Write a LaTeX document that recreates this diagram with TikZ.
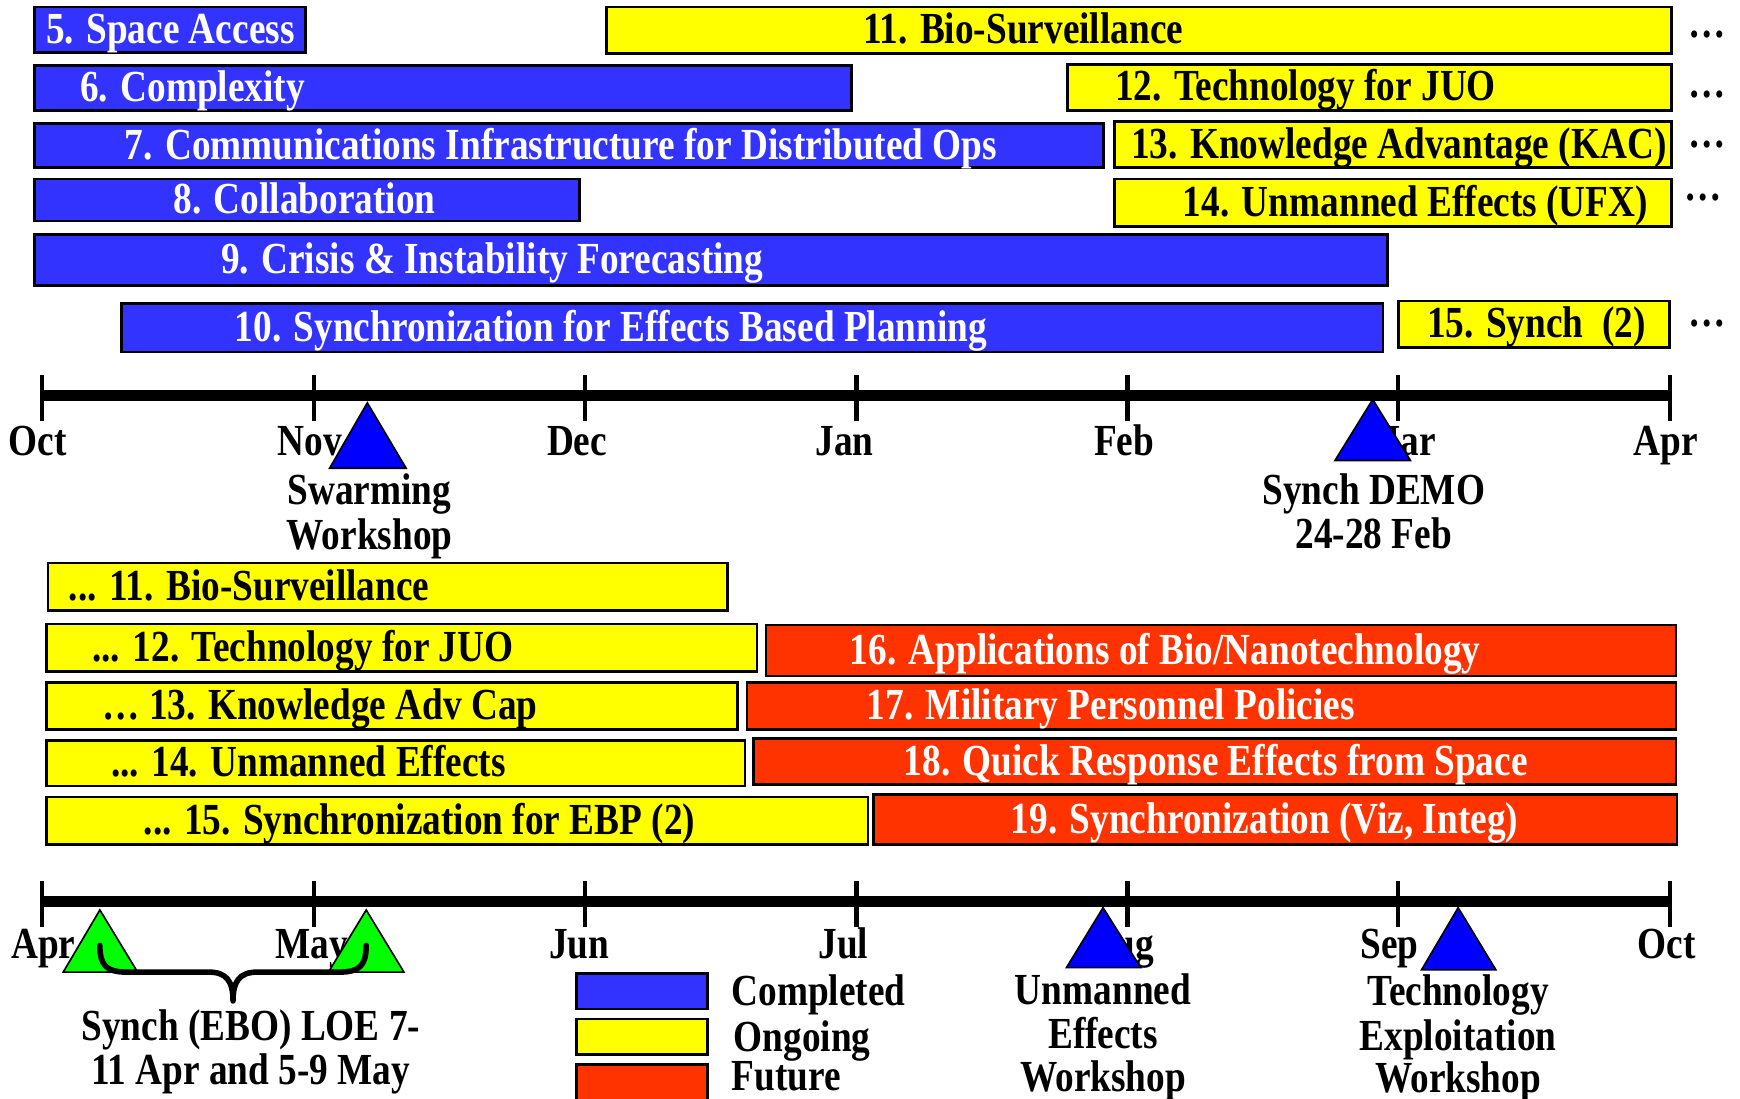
\documentclass[tikz,border=0pt]{standalone}
\usepackage{fontspec}
\setmainfont{Liberation Serif}[FakeStretch=0.84]
\usetikzlibrary{calc}

\definecolor{doneblue}{RGB}{51,51,255}
\definecolor{ongoingyellow}{RGB}{255,255,0}
\definecolor{futurered}{RGB}{255,51,0}
\definecolor{markblue}{RGB}{0,0,255}
\definecolor{markgreen}{RGB}{0,255,0}

% a task bar: name, status style, x0, x1, ytop, ybottom, label centre x, label
\newcommand\taskbar[8]{%
  \node[#2, anchor=north west, minimum width={(#4-#3)*1pt}, minimum height={(#6-#5)*1pt}] (#1) at (#3,#5) {};
  \node[#2 text] (#1-label) at (#7,{(#5+#6)/2}) {#8};}

\begin{document}
\begin{tikzpicture}[x=1pt,y=-1pt,
  every node/.style={font=\fontsize{40}{41}\selectfont\bfseries, inner sep=0pt,
    text height=27pt, text depth=0pt},
  barbox/.style={draw=black, line width=2.5pt},
  done/.style={barbox, fill=doneblue},
  ongoing/.style={barbox, fill=ongoingyellow},
  future/.style={barbox, fill=futurered},
  done text/.style={text=white},
  ongoing text/.style={text=black},
  future text/.style={text=white},
  axis/.style={line width=10pt},
  tick/.style={line width=4pt},
  milestone/.style={draw=black, line width=1.5pt, line join=miter},
  brace/.style={line width=5pt, line cap=round, line join=round},
  legendbox/.style={draw=black, line width=2.5pt, minimum width=118pt, minimum height=32pt, anchor=north west}]

\useasboundingbox (0,0) rectangle (1568,990);

% ---------- October to March ----------
\taskbar{b5}{done}{30}{274}{5}{46}{153.5}{5. Space Access}
\taskbar{b11}{ongoing}{545}{1505}{5}{47}{922}{11. Bio-Surveillance}
\taskbar{b6}{done}{30}{766}{58}{98}{173.5}{6. Complexity}
\taskbar{b12}{ongoing}{961}{1505}{57}{98}{1176.5}{12. Technology for JUO}
\taskbar{b7}{done}{30}{993}{110}{150}{505.5}{7. Communications Infrastructure for Distributed Ops}
\taskbar{b13}{ongoing}{1003}{1505}{108}{150}{1260.5}{13. Knowledge Advantage (KAC)}
\taskbar{b8}{done}{30}{521}{160}{198}{274.5}{8. Collaboration}
\taskbar{b14}{ongoing}{1003}{1505}{160}{203}{1275.5}{14. Unmanned Effects (UFX)}
\taskbar{b9}{done}{30}{1249}{210}{256}{443.5}{9. Crisis \& Instability Forecasting}
\taskbar{b10}{done}{108}{1245}{272}{316}{550.5}{10. Synchronization for Effects Based Planning}
\taskbar{b15}{ongoing}{1259}{1503}{270}{312}{1384.5}{15. Synch\ \ (2)}

% continuation marks
\node[anchor=base] (c11) at (1538,34) {…};
\node[anchor=base] (c12) at (1538,88) {…};
\node[anchor=base] (c13) at (1538,133) {…};
\node[anchor=base] (c14) at (1535,181) {…};
\node[anchor=base] (c15) at (1538,294) {…};

% first timeline
\coordinate (ta) at (38,356);
\coordinate (tb) at (1505,356);
\draw[axis] (ta) -- (tb);
\foreach \x in {38,283,527,772,1016,1260,1505}
  \draw[tick] (\x,338) -- (\x,379);
\node (mOct) at (34,397) {Oct};
\node (mNov) at (279,397) {Nov};
\node (mDec) at (520,397) {Dec};
\node (mJan) at (761,397) {Jan};
\node (mFeb) at (1013,397) {Feb};
\node (mMar) at (1262,397) {Mar};
\node (mApr) at (1501,397) {Apr};

\draw[milestone, fill=markblue] (331,363) -- (366,422) -- (297,422) -- cycle;
\draw[milestone, fill=markblue] (1237,360) -- (1271,415) -- (1203,415) -- cycle;
\node (swarm1) at (333,441) {Swarming};
\node (swarm2) at (333,482) {Workshop};
\node (demo1) at (1238,441) {Synch DEMO};
\node (demo2) at (1238,481) {24-28 Feb};

% ---------- April to September ----------
\taskbar{d11}{ongoing}{42}{654}{506}{549}{224.5}{... 11. Bio-Surveillance}
\taskbar{d12}{ongoing}{41}{681}{561}{604}{273}{... 12. Technology for JUO}
\taskbar{b16}{future}{689}{1509}{562}{608}{1050}{16. Applications of Bio/Nanotechnology}
\taskbar{d13}{ongoing}{41}{663}{614}{656}{288.5}{… 13. Knowledge Adv Cap}
\taskbar{b17}{future}{672}{1509}{614}{656}{1001}{17. Military Personnel Policies}
\taskbar{d14}{ongoing}{41}{670}{666}{707}{278}{... 14. Unmanned Effects}
\taskbar{b18}{future}{678}{1509}{664}{706}{1095.5}{18. Quick Response Effects from Space}
\taskbar{d15}{ongoing}{41}{781}{717}{760}{378}{... 15. Synchronization for EBP (2)}
\taskbar{b19}{future}{786}{1510}{715}{760}{1139.5}{19. Synchronization (Viz, Integ)}

% second timeline
\coordinate (ua) at (38,812);
\coordinate (ub) at (1505,812);
\draw[axis] (ua) -- (ub);
\foreach \x in {38,283,527,772,1016,1260,1505}
  \draw[tick] (\x,794) -- (\x,835);
\node (nApr) at (39,850) {Apr};
\node (nMay) at (281,850) {May};
\node (nJun) at (522,850) {Jun};
\node (nJul) at (760,850) {Jul};
\node (nAug) at (1010,850) {Aug};
\node (nSep) at (1252,850) {Sep};
\node (nOct) at (1502,850) {Oct};

\draw[milestone, fill=markgreen] (90,820) -- (124,876) -- (57,876) -- cycle;
\draw[milestone, fill=markgreen] (330,820) -- (364,876) -- (296,876) -- cycle;
\draw[brace] (90,852) .. controls (90,870) and (96,876) .. (114,876) -- (188,876)
  .. controls (204,876) and (210,884) .. (210,902)
  .. controls (210,884) and (216,876) .. (232,876) -- (306,876)
  .. controls (324,876) and (330,870) .. (330,852);
\node (loe1) at (226,924) {Synch (EBO) LOE 7-};
\node (loe2) at (226,964) {11 Apr and 5-9 May};

\draw[milestone, fill=markblue] (994,818) -- (1028,872) -- (961,872) -- cycle;
\draw[milestone, fill=markblue] (1314,818) -- (1348,874) -- (1281,874) -- cycle;
\node (ufx1) at (994,892) {Unmanned};
\node (ufx2) at (994,931) {Effects};
\node (ufx3) at (994,970) {Workshop};
\node (tex1) at (1314,893) {Technology};
\node (tex2) at (1314,933) {Exploitation};
\node (tex3) at (1314,971) {Workshop};

% legend
\node[legendbox, fill=doneblue] (lg1) at (518,876) {};
\node[legendbox, fill=ongoingyellow] (lg2) at (518,917) {};
\node[legendbox, fill=futurered, minimum height=40pt] (lg3) at (518,958) {};
\node[anchor=west] (lt1) at (659,893) {Completed};
\node[anchor=west] (lt2) at (661,934) {Ongoing};
\node[anchor=west] (lt3) at (659,969) {Future};

\end{tikzpicture}
\end{document}
